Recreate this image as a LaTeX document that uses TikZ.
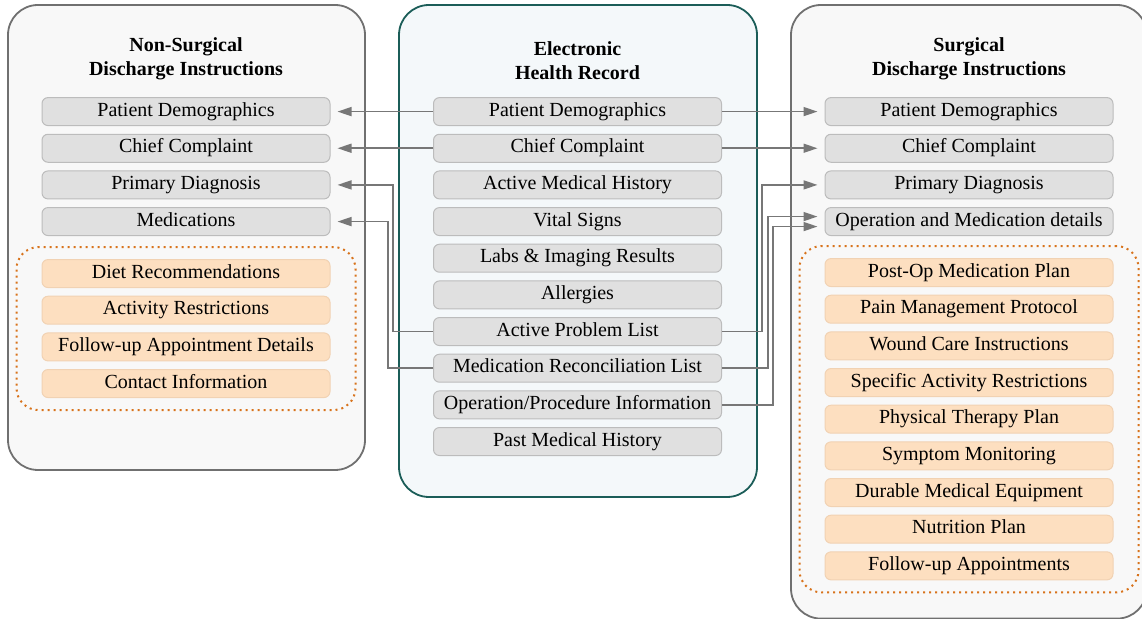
\documentclass[tikz,border=0pt]{standalone}
\usepackage{fontspec}
\setmainfont{Liberation Serif}
\usetikzlibrary{positioning,fit,arrows.meta}
\definecolor{itemgray}{HTML}{E0E0E0}
\definecolor{itemline}{HTML}{BCBCBC}
\definecolor{peach}{HTML}{FDDFC0}
\definecolor{peachline}{HTML}{F1D2B3}
\definecolor{dotorange}{HTML}{D8731C}
\definecolor{ehrteal}{HTML}{1B5D58}
\definecolor{ehrfill}{HTML}{F4F8FA}
\definecolor{panelgray}{HTML}{707070}
\definecolor{panelfill}{HTML}{F8F8F8}
\definecolor{arrowgray}{HTML}{777777}

\begin{document}
\begin{tikzpicture}[x=1pt,y=1pt,
  panel/.style={rounded corners=15pt,line width=0.9pt,draw=panelgray,fill=panelfill},
  ehrpanel/.style={panel,draw=ehrteal,fill=ehrfill},
  paneltitle/.style={font=\bfseries,align=center},
  item/.style={draw=itemline,fill=itemgray,rounded corners=3pt,line width=0.5pt,
    minimum width=144pt,minimum height=14pt,inner sep=0pt,
    text height=6.8pt,text depth=2.2pt},
  extra/.style={item,fill=peach,draw=peachline},
  group/.style={draw=dotorange,dotted,line width=1pt,rounded corners=11pt,
    inner xsep=12.5pt,inner ysep=6pt},
  link/.style={draw=arrowgray,line width=0.8pt,
    -{Triangle[length=7pt,width=4.5pt]},shorten >=3.5pt},
  node distance=3.83pt]
\useasboundingbox (0,0) rectangle (571,-309.5);

\draw[panel] (4,-2.5) rectangle (182.5,-235);
\draw[ehrpanel] (199.5,-2.5) rectangle (378.5,-248.5);
\draw[panel] (395.5,-2.5) rectangle (573.5,-309.3);

\node[paneltitle] (ntitle) at (93,-29.3) {Non-Surgical\\Discharge Instructions};
\node[paneltitle] (etitle) at (288.75,-30.2) {Electronic\\Health Record};
\node[paneltitle] (stitle) at (484.5,-29.3) {Surgical\\Discharge Instructions};

\node[item] (npd) at (93,-55.8) {Patient Demographics};
\node[item,below=of npd] (ncc) {Chief Complaint};
\node[item,below=of ncc] (ndx) {Primary Diagnosis};
\node[item,below=of ndx] (nmed) {Medications};
\node[extra,below=11.5pt of nmed] (ndiet) {Diet Recommendations};
\node[extra,below=of ndiet] (nact) {Activity Restrictions};
\node[extra,below=of nact] (nfollow) {Follow-up Appointment Details};
\node[extra,below=of nfollow] (ncontact) {Contact Information};
\node[group,fit=(ndiet)(ncontact)] (ngroup) {};

\node[item] (epd) at (288.75,-55.8) {Patient Demographics};
\node[item,below=of epd] (ecc) {Chief Complaint};
\node[item,below=of ecc] (ehist) {Active Medical History};
\node[item,below=of ehist] (evital) {Vital Signs};
\node[item,below=of evital] (elabs) {Labs \& Imaging Results};
\node[item,below=of elabs] (eallergy) {Allergies};
\node[item,below=of eallergy] (eapl) {Active Problem List};
\node[item,below=of eapl] (emed) {Medication Reconciliation List};
\node[item,below=of emed] (eop) {Operation/Procedure Information};
\node[item,below=of eop] (epast) {Past Medical History};

\node[item] (spd) at (484.5,-55.8) {Patient Demographics};
\node[item,below=of spd] (scc) {Chief Complaint};
\node[item,below=of scc] (sdx) {Primary Diagnosis};
\node[item,below=of sdx] (sop) {Operation and Medication details};
\node[extra,below=11pt of sop] (spostop) {Post-Op Medication Plan};
\node[extra,below=of spostop] (spain) {Pain Management Protocol};
\node[extra,below=of spain] (swound) {Wound Care Instructions};
\node[extra,below=of swound] (sact) {Specific Activity Restrictions};
\node[extra,below=of sact] (spt) {Physical Therapy Plan};
\node[extra,below=of spt] (ssymptom) {Symptom Monitoring};
\node[extra,below=of ssymptom] (sdme) {Durable Medical Equipment};
\node[extra,below=of sdme] (snutrition) {Nutrition Plan};
\node[extra,below=of snutrition] (sfollow) {Follow-up Appointments};
\node[group,fit=(spostop)(sfollow)] (sgroup) {};

\draw[link] (epd) -- (npd);
\draw[link] (ecc) -- (ncc);
\draw[link] (eapl.west) -- ++(-20,0) |- (ndx.east);
\draw[link] (emed.west) -- ++(-22.5,0) |- (nmed.east);

\draw[link] (epd) -- (spd);
\draw[link] (ecc) -- (scc);
\draw[link] (eapl.east) -- ++(20,0) |- (sdx.west);
\draw[link] (emed.east) -- ++(23,0) |- ([yshift=2.5pt]sop.west);
\draw[link] (eop.east) -- ++(25.5,0) |- ([yshift=-2.5pt]sop.west);
\end{tikzpicture}
\end{document}
